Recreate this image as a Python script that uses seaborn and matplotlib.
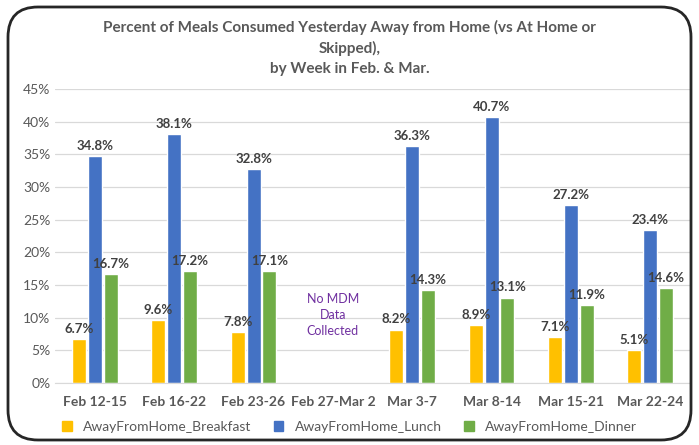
import matplotlib.pyplot as plt
from matplotlib.patches import FancyBboxPatch
from matplotlib.ticker import PercentFormatter
import seaborn as sns
import pandas as pd
import numpy as np

weeks = ["Feb 12-15", "Feb 16-22", "Feb 23-26", "Feb 27-Mar 2",
         "Mar 3-7", "Mar 8-14", "Mar 15-21", "Mar 22-24"]
breakfast = [6.7, 9.6, 7.8, np.nan, 8.2, 8.9, 7.1, 5.1]
lunch = [34.8, 38.1, 32.8, np.nan, 36.3, 40.7, 27.2, 23.4]
dinner = [16.7, 17.2, 17.1, np.nan, 14.3, 13.1, 11.9, 14.6]
series = ["AwayFromHome_Breakfast", "AwayFromHome_Lunch", "AwayFromHome_Dinner"]
colors = ["#FFC000", "#4472C4", "#70AD47"]

sns.set_style("white")
plt.rcParams["font.family"] = ["Lato", "DejaVu Sans"]

rows = []
for name, vals in zip(series, [breakfast, lunch, dinner]):
    for w, v in zip(weeks, vals):
        rows.append({"week": w, "series": name, "value": v})
df = pd.DataFrame(rows)

fig = plt.figure(figsize=(6.99, 4.45), dpi=100)
ax = fig.add_axes([0.079, 0.139, 0.908, 0.661])

sns.barplot(df, x="week", y="value", hue="series", order=weeks,
            hue_order=series, palette=colors, width=0.6, gap=0.12,
            saturation=1, ax=ax)

for cont in ax.containers:
    ax.bar_label(cont, fmt="%.1f%%", padding=3, fontsize=9.5,
                 fontweight="bold", color="#404040")

ax.set_ylim(0, 45)
ax.set_yticks(range(0, 46, 5))
ax.yaxis.set_major_formatter(PercentFormatter(decimals=0))
ax.grid(axis="y", color="#d9d9d9", linewidth=0.9)
ax.set_axisbelow(True)
for s in ["top", "right", "left"]:
    ax.spines[s].set_visible(False)
ax.spines["bottom"].set_color("#d9d9d9")
ax.tick_params(axis="both", length=0, labelsize=10, colors="#595959")
ax.tick_params(axis="x", pad=9)
for lab in ax.get_xticklabels():
    lab.set_fontweight("bold")
ax.set_xlabel("")
ax.set_ylabel("")

ax.text(3, 10.5, "No MDM\nData\nCollected", ha="center", va="center",
        fontsize=9, color="#7030A0", linespacing=1.4)

ax.get_legend().remove()
handles = [plt.Rectangle((0, 0), 1, 1, color=c) for c in colors]
fig.legend(handles, series, loc="center", bbox_to_anchor=(0.5, 0.04),
           ncol=3, frameon=False, fontsize=10, handlelength=0.7,
           handleheight=0.7, columnspacing=1.6, labelcolor="#595959")

fig.text(0.5, 0.892, "Percent of Meals Consumed Yesterday Away from Home (vs At Home or\nSkipped),\nby Week in Feb. & Mar.",
         ha="center", va="center", fontsize=11, fontweight="bold",
         color="#595959", linespacing=1.5)

border = FancyBboxPatch((8, 5), 683, 433, boxstyle="round,pad=0,rounding_size=30",
                        transform=None, fill=False, edgecolor="#262626",
                        linewidth=2)
fig.patches.append(border)

fig.savefig("out.png", dpi=100)
